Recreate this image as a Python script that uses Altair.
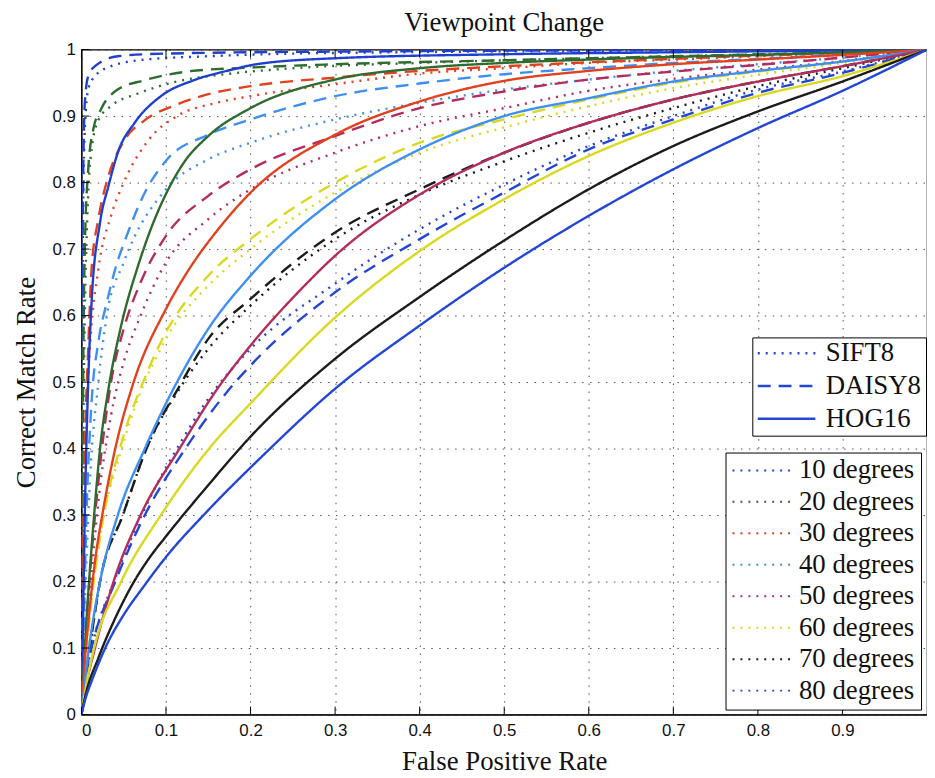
import altair as alt
import pandas as pd

# ---------------- data ----------------
DESCRIPTORS = ["SIFT8", "DAISY8", "HOG16"]
DASHES = [[2, 6], [13, 8], [1, 0]]
ANGLES = ["10 degrees", "20 degrees", "30 degrees", "40 degrees",
          "50 degrees", "60 degrees", "70 degrees", "80 degrees"]
COLORS = ["#1f3fcf", "#2e6b2e", "#e2401f", "#3d8ff2",
          "#b32c5c", "#d9d91f", "#1c1c1c", "#2346d6"]

X_TICKS = [0, 0.1, 0.2, 0.3, 0.4, 0.5, 0.6, 0.7, 0.8, 0.9]
Y_TICKS = [0, 0.1, 0.2, 0.3, 0.4, 0.5, 0.6, 0.7, 0.8, 0.9, 1]

# SIFT8 (dotted)
sift8_10 = [(0, 0), (0.001, 0.5), (0.002, 0.75), (0.004, 0.88), (0.008, 0.94), (0.016, 0.96),
            (0.035, 0.975), (0.075, 0.985), (0.15, 0.99), (0.3, 0.995), (1, 1)]
sift8_20 = [(0, 0), (0.002, 0.4), (0.004, 0.6), (0.007, 0.75), (0.012, 0.85), (0.02, 0.894),
            (0.035, 0.915), (0.067, 0.934), (0.113, 0.952), (0.17, 0.963), (0.25, 0.972),
            (0.4, 0.98), (0.6, 0.987), (0.8, 0.993), (1, 1)]
sift8_30 = [(0, 0), (0.003, 0.3), (0.006, 0.45), (0.01, 0.55), (0.02, 0.67), (0.035, 0.75),
            (0.05, 0.8), (0.08, 0.865), (0.113, 0.9), (0.16, 0.92), (0.2, 0.93), (0.3, 0.948),
            (0.4, 0.964), (0.5, 0.972), (0.6, 0.98), (0.7, 0.985), (0.8, 0.99), (0.9, 0.995), (1, 1)]
sift8_40 = [(0, 0), (0.005, 0.2), (0.01, 0.35), (0.02, 0.5), (0.03, 0.6), (0.05, 0.68),
            (0.1, 0.79), (0.15, 0.835), (0.2, 0.86), (0.3, 0.895), (0.4, 0.92), (0.5, 0.94),
            (0.6, 0.955), (0.7, 0.968), (0.8, 0.978), (0.9, 0.988), (1, 1)]
sift8_50 = [(0, 0), (0.005, 0.1), (0.01, 0.18), (0.02, 0.32), (0.035, 0.45), (0.05, 0.53),
            (0.07, 0.6), (0.1, 0.68), (0.15, 0.745), (0.2, 0.79), (0.3, 0.845), (0.4, 0.885),
            (0.5, 0.912), (0.6, 0.938), (0.7, 0.956), (0.8, 0.97), (0.9, 0.983), (1, 1)]
sift8_60 = [(0, 0), (0.005, 0.08), (0.01, 0.15), (0.02, 0.25), (0.05, 0.41), (0.1, 0.565),
            (0.15, 0.645), (0.2, 0.7), (0.3, 0.785), (0.4, 0.845), (0.5, 0.883), (0.6, 0.915),
            (0.7, 0.942), (0.8, 0.962), (0.9, 0.98), (1, 1)]
sift8_70 = [(0, 0), (0.01, 0.1), (0.022, 0.2), (0.049, 0.3), (0.077, 0.4), (0.116, 0.49),
            (0.15, 0.55), (0.2, 0.615), (0.3, 0.715), (0.4, 0.782), (0.5, 0.832), (0.6, 0.875),
            (0.7, 0.912), (0.8, 0.945), (0.9, 0.972), (1, 1)]
sift8_80 = [(0, 0), (0.004, 0.05), (0.012, 0.1), (0.04, 0.205), (0.075, 0.31), (0.12, 0.415),
            (0.15, 0.475), (0.2, 0.55), (0.3, 0.648), (0.4, 0.73), (0.5, 0.797), (0.6, 0.855),
            (0.7, 0.9), (0.8, 0.94), (0.9, 0.967), (1, 1)]

# DAISY8 (dashed)
daisy8_10 = [(0, 0), (0.001, 0.6), (0.002, 0.8), (0.004, 0.92), (0.008, 0.96), (0.016, 0.975),
             (0.043, 0.99), (0.1, 0.994), (0.3, 0.997), (1, 1)]
daisy8_20 = [(0, 0), (0.002, 0.5), (0.004, 0.7), (0.008, 0.82), (0.014, 0.88), (0.023, 0.91),
             (0.043, 0.94), (0.075, 0.954), (0.125, 0.967), (0.2, 0.973), (0.3, 0.978),
             (0.5, 0.984), (0.7, 0.99), (0.9, 0.996), (1, 1)]
daisy8_30 = [(0, 0), (0.002, 0.25), (0.004, 0.4), (0.008, 0.55), (0.012, 0.67), (0.02, 0.745),
             (0.032, 0.81), (0.05, 0.862), (0.075, 0.894), (0.11, 0.916), (0.15, 0.933),
             (0.2, 0.945), (0.3, 0.958), (0.4, 0.968), (0.5, 0.975), (0.6, 0.981), (0.7, 0.986),
             (0.8, 0.991), (0.9, 0.995), (1, 1)]
daisy8_40 = [(0, 0), (0.003, 0.15), (0.006, 0.3), (0.012, 0.47), (0.02, 0.56), (0.03, 0.62),
             (0.04, 0.67), (0.055, 0.725), (0.075, 0.785), (0.1, 0.833), (0.15, 0.872),
             (0.2, 0.895), (0.3, 0.93), (0.4, 0.949), (0.5, 0.963), (0.6, 0.972), (0.7, 0.98),
             (0.8, 0.986), (0.9, 0.993), (1, 1)]
daisy8_50 = [(0, 0), (0.005, 0.12), (0.01, 0.21), (0.02, 0.35), (0.035, 0.5), (0.05, 0.58),
             (0.07, 0.65), (0.1, 0.72), (0.15, 0.78), (0.2, 0.82), (0.3, 0.87), (0.4, 0.912),
             (0.5, 0.937), (0.6, 0.955), (0.7, 0.967), (0.8, 0.977), (0.9, 0.988), (1, 1)]
daisy8_60 = [(0, 0), (0.005, 0.08), (0.01, 0.15), (0.02, 0.25), (0.05, 0.42), (0.073, 0.5),
             (0.1, 0.575), (0.15, 0.66), (0.2, 0.715), (0.3, 0.8), (0.4, 0.86), (0.5, 0.895),
             (0.6, 0.925), (0.7, 0.95), (0.8, 0.967), (0.9, 0.982), (1, 1)]
daisy8_70 = [(0, 0), (0.01, 0.1), (0.022, 0.2), (0.049, 0.3), (0.077, 0.4), (0.116, 0.494),
             (0.15, 0.565), (0.2, 0.625), (0.3, 0.725), (0.4, 0.79), (0.5, 0.845), (0.6, 0.89),
             (0.7, 0.925), (0.8, 0.952), (0.9, 0.975), (1, 1)]
daisy8_80 = [(0, 0), (0.004, 0.05), (0.012, 0.1), (0.04, 0.2), (0.075, 0.3), (0.123, 0.4),
             (0.178, 0.494), (0.2, 0.525), (0.3, 0.635), (0.4, 0.715), (0.5, 0.785), (0.6, 0.85),
             (0.7, 0.895), (0.8, 0.935), (0.9, 0.965), (1, 1)]

# HOG16 (solid)
hog16_10 = [(0, 0), (0.002, 0.15), (0.004, 0.3), (0.008, 0.5), (0.012, 0.62), (0.022, 0.74),
            (0.032, 0.795), (0.043, 0.845), (0.063, 0.89), (0.094, 0.93), (0.133, 0.954),
            (0.172, 0.968), (0.207, 0.978), (0.3, 0.987), (0.5, 0.993), (0.7, 0.996), (1, 1)]
hog16_20 = [(0, 0), (0.004, 0.1), (0.009, 0.2), (0.015, 0.3), (0.022, 0.4), (0.032, 0.49),
            (0.047, 0.585), (0.067, 0.675), (0.082, 0.73), (0.1, 0.783), (0.12, 0.828),
            (0.15, 0.87), (0.2, 0.912), (0.3, 0.955), (0.4, 0.972), (0.5, 0.98), (0.6, 0.985),
            (0.7, 0.989), (0.8, 0.992), (0.9, 0.996), (1, 1)]
hog16_30 = [(0, 0), (0.004, 0.08), (0.009, 0.15), (0.016, 0.23), (0.026, 0.31), (0.04, 0.4),
            (0.061, 0.497), (0.1, 0.61), (0.13, 0.675), (0.16, 0.727), (0.2, 0.785),
            (0.3, 0.872), (0.4, 0.922), (0.5, 0.953), (0.6, 0.968), (0.7, 0.978),
            (0.8, 0.985), (0.9, 0.992), (1, 1)]
hog16_40 = [(0, 0), (0.005, 0.06), (0.01, 0.11), (0.022, 0.2), (0.043, 0.3), (0.075, 0.4),
            (0.113, 0.5), (0.15, 0.58), (0.2, 0.66), (0.3, 0.775), (0.4, 0.85), (0.5, 0.9),
            (0.6, 0.927), (0.7, 0.952), (0.8, 0.968), (0.9, 0.982), (1, 1)]
hog16_50 = [(0, 0), (0.005, 0.04), (0.016, 0.1), (0.038, 0.2), (0.07, 0.3), (0.116, 0.4),
            (0.163, 0.494), (0.2, 0.555), (0.26, 0.64), (0.3, 0.69), (0.4, 0.782),
            (0.5, 0.845), (0.6, 0.89), (0.7, 0.925), (0.8, 0.952), (0.9, 0.975), (1, 1)]
hog16_60 = [(0, 0), (0.005, 0.04), (0.015, 0.1), (0.047, 0.2), (0.094, 0.3), (0.151, 0.4),
            (0.2, 0.468), (0.3, 0.597), (0.4, 0.697), (0.5, 0.775), (0.6, 0.84),
            (0.7, 0.89), (0.8, 0.93), (0.9, 0.96), (1, 1)]
hog16_70 = [(0, 0), (0.005, 0.03), (0.02, 0.085), (0.04, 0.145), (0.06, 0.195), (0.08, 0.235),
            (0.1, 0.268), (0.15, 0.345), (0.2, 0.418), (0.3, 0.535), (0.4, 0.628), (0.5, 0.713),
            (0.6, 0.79), (0.7, 0.855), (0.8, 0.907), (0.9, 0.952), (1, 1)]
hog16_80 = [(0, 0), (0.005, 0.025), (0.012, 0.05), (0.03, 0.105), (0.05, 0.15), (0.075, 0.195),
            (0.1, 0.237), (0.146, 0.302), (0.215, 0.39), (0.3, 0.49), (0.4, 0.585),
            (0.5, 0.672), (0.6, 0.75), (0.7, 0.82), (0.8, 0.882), (0.9, 0.938), (1, 1)]

SIFT8 = [sift8_10, sift8_20, sift8_30, sift8_40, sift8_50, sift8_60, sift8_70, sift8_80]
DAISY8 = [daisy8_10, daisy8_20, daisy8_30, daisy8_40, daisy8_50, daisy8_60, daisy8_70, daisy8_80]
HOG16 = [hog16_10, hog16_20, hog16_30, hog16_40, hog16_50, hog16_60, hog16_70, hog16_80]

rows = []
for desc, curves in zip(DESCRIPTORS, [SIFT8, DAISY8, HOG16]):
    for angle, pts in zip(ANGLES, curves):
        for fx, fy in pts:
            rows.append({"fpr": fx, "tpr": fy, "desc": desc, "angle": angle})
df = pd.DataFrame(rows)

W, H = 852, 670

x_scale = alt.Scale(domain=[0, 1], nice=False, zero=False)
y_scale = alt.Scale(domain=[0, 1], nice=False, zero=False)

X_AXIS = alt.Axis(title="False Positive Rate", values=X_TICKS, format="~g",
                  titleX=W / 2, titleY=55, titleAlign="center",
                  titleBaseline="alphabetic", labelPadding=8)
Y_AXIS = alt.Axis(title="Correct Match Rate", values=Y_TICKS, format="~g",
                  titleX=-47, titleY=H / 2, titleAngle=-90, titleAlign="center",
                  titleBaseline="alphabetic", labelPadding=6)

lines = alt.Chart(df).mark_line(strokeWidth=2.4, interpolate="monotone", clip=True).encode(
    x=alt.X("fpr:Q", scale=x_scale, axis=X_AXIS),
    y=alt.Y("tpr:Q", scale=y_scale, axis=Y_AXIS),
    color=alt.Color("angle:N", scale=alt.Scale(domain=ANGLES, range=COLORS),
                    legend=alt.Legend(title=None, orient="none", legendX=649, legendY=406,
                                      symbolType="stroke", symbolSize=3364, clipHeight=24,
                                      symbolStrokeWidth=2, symbolDash=[2, 6],
                                      labelFont="Liberation Serif", labelFontSize=27,
                                      labelColor="#111", labelOffset=8, labelLimit=400,
                                      rowPadding=4.7, padding=6, strokeColor="black",
                                      fillColor="white", cornerRadius=0)),
    strokeDash=alt.StrokeDash("desc:N", scale=alt.Scale(domain=DESCRIPTORS, range=DASHES),
                              legend=alt.Legend(title=None, orient="none", legendX=676,
                                                legendY=290, symbolType="stroke",
                                                symbolSize=3364, clipHeight=24,
                                                symbolStrokeWidth=2.6,
                                                symbolStrokeColor="#2346d6",
                                                labelFont="Liberation Serif", labelFontSize=27,
                                                labelColor="#111", labelOffset=9,
                                                labelLimit=400, rowPadding=6, padding=4,
                                                strokeColor="black", fillColor="white",
                                                cornerRadius=0)),
)

xt = pd.DataFrame({"fpr": X_TICKS})
yt = pd.DataFrame({"tpr": Y_TICKS})
tick_bottom = alt.Chart(xt).mark_rule(color="black", strokeWidth=1).encode(
    x=alt.X("fpr:Q", scale=x_scale, axis=X_AXIS), y=alt.value(H), y2=alt.value(H - 8))
tick_top = alt.Chart(xt).mark_rule(color="black", strokeWidth=1).encode(
    x=alt.X("fpr:Q", scale=x_scale, axis=X_AXIS), y=alt.value(0), y2=alt.value(8))
tick_left = alt.Chart(yt).mark_rule(color="black", strokeWidth=1).encode(
    y=alt.Y("tpr:Q", scale=y_scale, axis=Y_AXIS), x=alt.value(0), x2=alt.value(8))

chart = alt.layer(lines, tick_bottom, tick_top, tick_left).properties(
    width=W, height=H,
    autosize=alt.AutoSizeParams(type="none"),
    padding={"left": 74, "top": 39, "right": 0, "bottom": 58},
    title=alt.TitleParams("Viewpoint Change", font="Liberation Serif", fontSize=27,
                          fontWeight="normal", color="#111", anchor="middle", frame="group",
                          offset=16, dy=33, baseline="alphabetic"),
).configure_axis(
    domain=True, domainColor="black", ticks=False,
    grid=True, gridColor="#333", gridDash=[1.5, 6.5], gridWidth=1, gridOpacity=0.85,
    labelFont="Liberation Sans", labelFontSize=17, labelColor="#111",
    titleFont="Liberation Serif", titleFontSize=27, titleFontWeight="normal", titleColor="#111",
).configure_view(stroke="black", strokeWidth=1.2)

chart.save("out.html", embed_options={"renderer": "svg", "actions": False})
